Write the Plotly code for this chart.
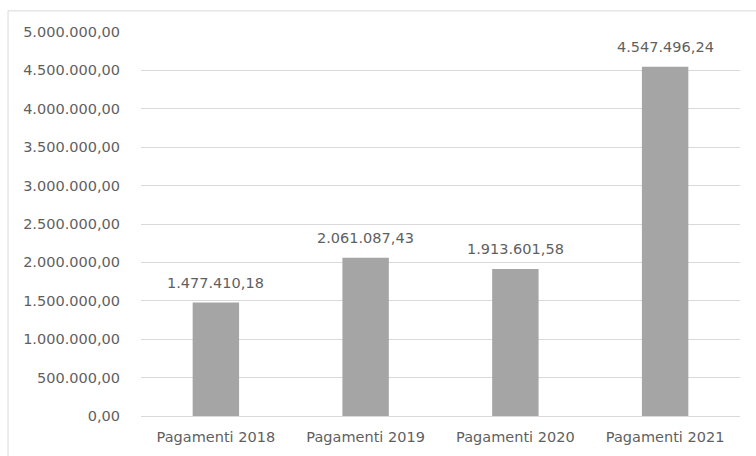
import plotly.graph_objects as go

categories = ["Pagamenti 2018", "Pagamenti 2019", "Pagamenti 2020", "Pagamenti 2021"]
values = [1477410.18, 2061087.43, 1913601.58, 4547496.24]
y_ticks = [0, 500000, 1000000, 1500000, 2000000, 2500000, 3000000, 3500000, 4000000, 4500000, 5000000]

text_color = "#5f5f5f"
font_family = "DejaVu Sans, sans-serif"


def it_number(v):
    """Format a number Italian style: 1.477.410,18"""
    s = f"{v:,.2f}"
    return s.replace(",", "X").replace(".", ",").replace("X", ".")


fig = go.Figure(
    go.Bar(
        x=categories,
        y=values,
        marker=dict(color="#A5A5A5", line=dict(width=0)),
        hovertemplate="%{x}: %{y:,.2f}<extra></extra>",
    )
)

# Value labels above each bar
for cat, val in zip(categories, values):
    fig.add_annotation(
        x=cat,
        y=val,
        text=it_number(val),
        showarrow=False,
        yanchor="middle",
        yshift=20,
        font=dict(family=font_family, size=14.5, color=text_color),
    )

fig.update_layout(
    width=756,
    height=456,
    margin=dict(l=141, r=16, t=32, b=40),
    paper_bgcolor="white",
    plot_bgcolor="white",
    separators=",.",
    bargap=0.69,
    showlegend=False,
    font=dict(family=font_family, color=text_color, size=14.5),
    xaxis=dict(
        showgrid=False,
        showline=True,
        linecolor="#D9D9D9",
        linewidth=1,
        ticks="",
        ticklabelstandoff=8,
        tickfont=dict(size=14.5, color=text_color),
    ),
    yaxis=dict(
        range=[0, 5000000],
        tickvals=y_ticks,
        tickformat=",.2f",
        showgrid=True,
        gridcolor="#D9D9D9",
        gridwidth=1,
        zeroline=False,
        showline=False,
        ticks="",
        ticklabelstandoff=20,
        tickfont=dict(size=14.5, color=text_color),
    ),
)

# Chart frame around the whole figure
fig.add_shape(
    type="rect",
    xref="paper",
    yref="paper",
    x0=-0.222,
    x1=1.2,
    y0=-0.3,
    y1=1.055,
    line=dict(color="#D9D9D9", width=1),
    fillcolor="rgba(0,0,0,0)",
    layer="below",
)

fig.write_html("out.html")
